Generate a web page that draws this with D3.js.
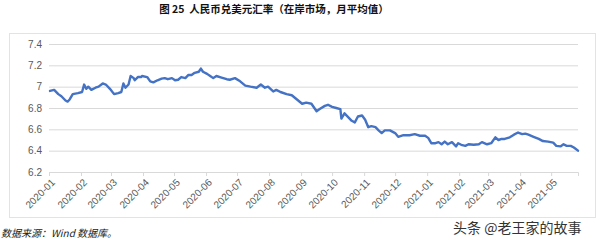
<!DOCTYPE html>
<html><head><meta charset="utf-8">
<script src="https://cdn.jsdelivr.net/npm/d3@7"></script>
<style>
html,body{margin:0;padding:0;background:#fff;}
svg{display:block;}
</style></head>
<body>
<svg id="c" width="600" height="242"></svg>
<script>
const titleText = "图 25\u00a0\u00a0人民币兑美元汇率（在岸市场，月平均值）";
const sourceText = "数据来源：Wind 数据库。";
const watermarkText = "头条 @老王家的故事";
const yTicks = [6.2, 6.4, 6.6, 6.8, 7.0, 7.2, 7.4];
const monthTicks = ["2020-01","2020-02","2020-03","2020-04","2020-05","2020-06","2020-07","2020-08","2020-09","2020-10","2020-11","2020-12","2021-01","2021-02","2021-03","2021-04","2021-05"];
const dates = [
"2020-01-02","2020-01-06","2020-01-10","2020-01-13","2020-01-17","2020-01-19","2020-01-21","2020-01-24","2020-01-29",
"2020-02-02","2020-02-04","2020-02-06","2020-02-08","2020-02-11","2020-02-15","2020-02-18","2020-02-22","2020-02-25","2020-02-29",
"2020-03-04","2020-03-08","2020-03-11","2020-03-13","2020-03-15","2020-03-18","2020-03-20","2020-03-23","2020-03-24","2020-03-27","2020-03-30","2020-03-31",
"2020-04-05","2020-04-08","2020-04-11","2020-04-15","2020-04-19","2020-04-22","2020-04-25","2020-04-29",
"2020-05-02","2020-05-05","2020-05-08","2020-05-12","2020-05-15","2020-05-18","2020-05-21","2020-05-25","2020-05-27","2020-05-29",
"2020-06-02","2020-06-05","2020-06-08","2020-06-11","2020-06-16","2020-06-21","2020-06-24","2020-06-29",
"2020-07-04","2020-07-09","2020-07-14","2020-07-20","2020-07-24","2020-07-28","2020-07-31",
"2020-08-05","2020-08-08","2020-08-12","2020-08-18","2020-08-23","2020-08-28",
"2020-09-02","2020-09-06","2020-09-11","2020-09-16","2020-09-19","2020-09-24","2020-09-27",
"2020-10-01","2020-10-05","2020-10-09","2020-10-10","2020-10-13","2020-10-17","2020-10-20","2020-10-23","2020-10-26","2020-10-30",
"2020-11-02","2020-11-05","2020-11-08","2020-11-12","2020-11-15","2020-11-18","2020-11-21","2020-11-26",
"2020-12-01","2020-12-04","2020-12-09","2020-12-15","2020-12-20","2020-12-25","2020-12-30",
"2021-01-02","2021-01-05","2021-01-09","2021-01-12","2021-01-15","2021-01-18","2021-01-21","2021-01-25","2021-01-29","2021-01-31",
"2021-02-03","2021-02-07","2021-02-10","2021-02-15","2021-02-20","2021-02-23","2021-02-28",
"2021-03-04","2021-03-08","2021-03-11","2021-03-14","2021-03-17","2021-03-22","2021-03-26","2021-03-30",
"2021-04-03","2021-04-06","2021-04-09","2021-04-14","2021-04-19","2021-04-23","2021-04-28",
"2021-05-03","2021-05-06","2021-05-10","2021-05-13","2021-05-16","2021-05-20","2021-05-23","2021-05-27"
];
const rates = [
6.96,6.97,6.93,6.91,6.87,6.86,6.88,6.93,6.94,
6.95,7.02,6.98,7.00,6.97,6.99,7.00,7.03,7.02,6.98,
6.93,6.94,6.95,7.03,6.99,7.02,7.10,7.08,7.06,7.09,7.09,7.10,
7.09,7.05,7.04,7.06,7.075,7.08,7.07,7.08,
7.06,7.065,7.09,7.08,7.11,7.11,7.13,7.14,7.17,7.14,
7.12,7.10,7.08,7.10,7.085,7.07,7.065,7.08,
7.05,7.01,7.00,6.99,7.02,6.99,7.00,
6.955,6.97,6.95,6.93,6.92,6.88,
6.84,6.85,6.84,6.77,6.79,6.82,6.83,
6.81,6.80,6.79,6.70,6.75,6.71,6.68,6.665,6.72,6.73,
6.69,6.62,6.63,6.62,6.59,6.565,6.59,6.59,
6.565,6.53,6.545,6.545,6.555,6.54,6.54,
6.52,6.47,6.47,6.48,6.46,6.485,6.46,6.48,6.44,6.47,
6.455,6.445,6.46,6.455,6.46,6.48,6.46,
6.47,6.525,6.50,6.51,6.51,6.525,6.55,6.57,
6.555,6.56,6.55,6.53,6.51,6.49,6.485,
6.475,6.445,6.44,6.46,6.445,6.445,6.43,6.40
];

const parse = d3.timeParse("%Y-%m-%d");
const parseM = d3.timeParse("%Y-%m");
const data = dates.map((d,i)=>({date:parse(d), v:rates[i]}));

const svg = d3.select("#c");
const latin = "'Liberation Sans', Arial, sans-serif";
const cjk = "'Noto Sans CJK SC', sans-serif";

// outer frame
svg.append("rect").attr("x",9.5).attr("y",33.5).attr("width",586).attr("height",184)
  .attr("fill","#fff").attr("stroke","#e3e3e3").attr("stroke-width",1);

const x = d3.scaleTime().domain([parse("2020-01-01"), parse("2021-05-27")]).range([49, 578]);
const y = d3.scaleLinear().domain([6.2, 7.4]).range([172, 44]);

// grid + y labels
const ya = svg.append("g").attr("transform","translate(49,0)")
  .call(d3.axisLeft(y).tickValues(yTicks).tickSize(-529).tickFormat(d=>d3.format("~g")(d)).tickPadding(7));
ya.select(".domain").remove();
ya.selectAll(".tick line").attr("stroke","#d9d9d9").attr("stroke-width",1);
ya.selectAll(".tick text").attr("fill","#595959").style("font-family",latin).style("font-size","10px");

// x axis
const xa = svg.append("g").attr("transform","translate(0,172)")
  .call(d3.axisBottom(x).tickValues(monthTicks.map(parseM)).tickSize(4).tickFormat(d3.timeFormat("%Y-%m")));
xa.select(".domain").attr("stroke","#d9d9d9");
xa.selectAll(".tick line").attr("stroke","#d9d9d9");
xa.selectAll(".tick text")
  .attr("fill","#595959").style("font-family",latin).style("font-size","10px")
  .attr("text-anchor","end").attr("x",0).attr("y",0).attr("dy","0.3em")
  .attr("transform","translate(4,9) rotate(-45)");

// line
svg.append("path").datum(data)
  .attr("fill","none").attr("stroke","#4472C4").attr("stroke-width",2.4)
  .attr("stroke-linejoin","round").attr("stroke-linecap","round")
  .attr("d", d3.line().x(d=>x(d.date)).y(d=>y(d.v)));

// title
svg.append("text").attr("x",274).attr("y",13).attr("text-anchor","middle")
  .style("font-family",cjk).style("font-size","10.5px").style("font-weight","bold")
  .attr("fill","#111").text(titleText);

// source
svg.append("text").attr("x",1).attr("y",237)
  .style("font-family",cjk).style("font-size","10px").style("font-style","italic")
  .attr("fill","#222").text(sourceText);

// watermark
svg.append("text").attr("x",453).attr("y",233)
  .style("font-family",cjk).style("font-size","14px")
  .attr("fill","#333").attr("stroke","#fff").attr("stroke-width",0.6).attr("paint-order","stroke")
  .text(watermarkText);
</script>
</body></html>
